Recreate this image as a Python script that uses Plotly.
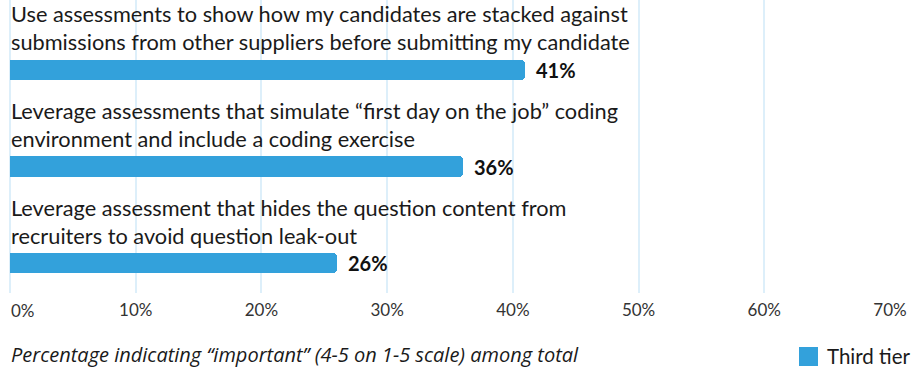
import plotly.graph_objects as go

# Survey items (two-line labels) and share rating them "important"
categories = [
    "Use assessments to show how my candidates are stacked against<br>submissions from other suppliers before submitting my candidate",
    "Leverage assessments that simulate “first day on the job” coding<br>environment and include a coding exercise",
    "Leverage assessment that hides the question content from<br>recruiters to avoid question leak-out",
]
values = [41, 36, 26]
series_name = "Third tier"
tick_values = [0, 10, 20, 30, 40, 50, 60, 70]
tick_labels = ["0%", "10%", "20%", "30%", "40%", "50%", "60%", "70%"]
footnote = "Percentage indicating “important” (4-5 on 1-5 scale) among total"

BAR_COLOR = "#33A1DB"
GRID_COLOR = "#DDEFFA"
TEXT_COLOR = "#1a1a1a"
TICK_COLOR = "#333333"
FONT = "Lato, Inter, sans-serif"
NOTE_FONT = "Open Sans, Lato, sans-serif"

positions = list(range(len(values)))

# the first tick label is drawn left-aligned at the axis start (below),
# the rest stay centred under their gridlines
tick_text = [""] + tick_labels[1:]

fig = go.Figure()
fig.add_trace(go.Bar(
    x=values,
    y=positions,
    orientation="h",
    width=0.21,
    marker=dict(color=BAR_COLOR, cornerradius=4, line=dict(width=0)),
    name=series_name,
    showlegend=False,
    hoverinfo="skip",
))

# Item label above each bar
for pos, label in zip(positions, categories):
    fig.add_annotation(
        x=0, y=pos - 0.14, xref="x", yref="y",
        text=label, showarrow=False,
        xanchor="left", yanchor="bottom", align="left", borderpad=0,
        font=dict(family=FONT, size=21.75, color=TEXT_COLOR),
    )

# Value label right of each bar
for pos, val in zip(positions, values):
    fig.add_annotation(
        x=val, y=pos, xref="x", yref="y",
        text=f"<b>{val}%</b>", showarrow=False,
        xanchor="left", yanchor="middle", xshift=9,
        font=dict(family=FONT, size=20, color="#111111"),
    )

# Axis-start tick label
fig.add_annotation(
    x=tick_values[0], y=0, xref="x", yref="paper", yshift=-17,
    text=tick_labels[0], showarrow=False,
    xanchor="left", yanchor="middle", borderpad=0,
    font=dict(family=FONT, size=17, color=TICK_COLOR),
)

# Footnote
fig.add_annotation(
    x=0, y=0, xref="paper", yref="paper", yshift=-61,
    text=f"<i>{footnote}</i>", showarrow=False,
    xanchor="left", yanchor="middle", align="left", borderpad=0,
    font=dict(family=NOTE_FONT, size=20, color=TEXT_COLOR),
)

# Legend: colour swatch and series name, bottom right
fig.add_shape(
    type="rect", xref="paper", yref="paper",
    xsizemode="pixel", ysizemode="pixel", xanchor=1, yanchor=0,
    x0=-91, x1=-72, y0=-54, y1=-73,
    fillcolor=BAR_COLOR, line=dict(width=0),
)
fig.add_annotation(
    x=1, y=0, xref="paper", yref="paper", xshift=-64, yshift=-63,
    text=series_name, showarrow=False,
    xanchor="left", yanchor="middle", borderpad=0,
    font=dict(family=FONT, size=20.5, color=TEXT_COLOR),
)

fig.update_layout(
    width=912, height=368,
    margin=dict(l=10, r=22, t=0, b=75),
    paper_bgcolor="white", plot_bgcolor="white",
    bargap=0,
    font=dict(family=FONT, color=TEXT_COLOR),
    xaxis=dict(
        range=[0, 70],
        tickvals=tick_values, ticktext=tick_text,
        showgrid=True, gridcolor=GRID_COLOR, gridwidth=2,
        zeroline=True, zerolinecolor=GRID_COLOR, zerolinewidth=2,
        showline=False, ticks="",
        automargin=False,
        ticklabeloverflow="allow",
        ticklabelstandoff=5,
        tickfont=dict(family=FONT, size=17, color=TICK_COLOR),
        fixedrange=True,
    ),
    yaxis=dict(
        range=[2.31, -0.725],
        showgrid=False, zeroline=False, showticklabels=False, ticks="",
        automargin=False,
        fixedrange=True,
    ),
    showlegend=False,
)

fig.write_html("out.html")
